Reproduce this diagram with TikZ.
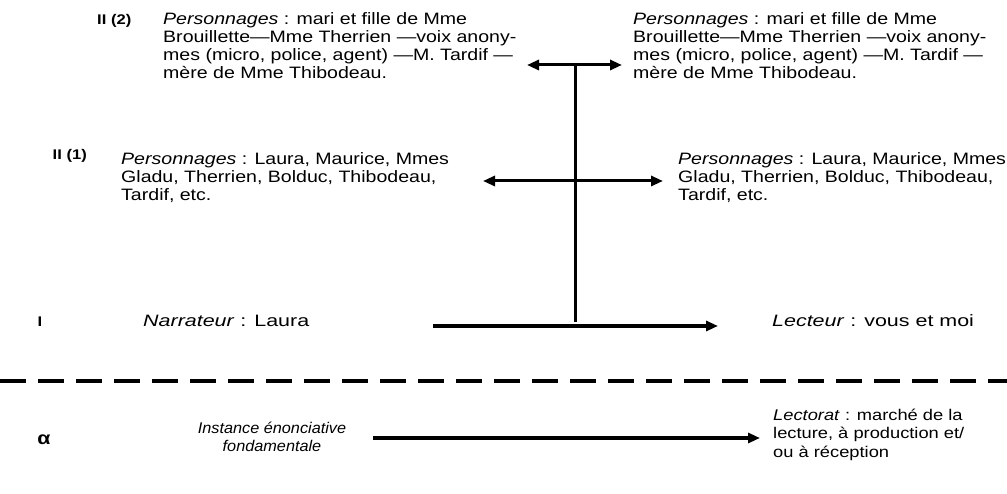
\documentclass[tikz,border=0pt]{standalone}
\usepackage{fontspec}
\setmainfont{Liberation Sans}[FakeStretch=1.185]
\newfontfamily\rowf{Liberation Sans}[FakeStretch=1.3]
\newfontfamily\botf{Liberation Sans}[FakeStretch=1.05]
\newfontfamily\lctf{Liberation Sans}[FakeStretch=1.18]
\usetikzlibrary{arrows.meta}
\begin{document}
\begin{tikzpicture}[x=1pt,y=-1pt,
  txt/.style={anchor=base west,inner sep=0pt},
  lbl/.style={anchor=base,inner sep=0pt,font=\fontsize{14}{16}\selectfont\bfseries},
  arr/.style={line width=3pt,-{Triangle[length=12pt,width=10pt]}},
  darr/.style={line width=3pt,{Triangle[length=12pt,width=10pt]}-{Triangle[length=12pt,width=10pt]}},
  bar/.style={line width=3pt},
  dashline/.style={line width=3.2pt,dash pattern=on 26pt off 12pt}]
\useasboundingbox (0,0) rectangle (1007,494);
\newcommand{\blk}[2]{\parbox[t]{#1pt}{\fontsize{16.5}{18}\selectfont\raggedright #2}}
% level II (2)
\node[lbl,anchor=base west] (l2) at (97,25) {II (2)};
\node[txt] (p2l) at (163,25) {\blk{380}{\textit{Personnages} : mari et fille de Mme\\ Brouillette---Mme Therrien ---voix anony-\\ mes (micro, police, agent) ---M. Tardif ---\\ mère de Mme Thibodeau.}};
\node[txt] (p2r) at (633,25) {\blk{370}{\textit{Personnages} : mari et fille de Mme\\ Brouillette---Mme Therrien ---voix anony-\\ mes (micro, police, agent) ---M. Tardif ---\\ mère de Mme Thibodeau.}};
% level II (1)
\node[lbl,anchor=base east] (l1) at (87,160) {II (1)};
\node[txt] (p1l) at (121,165) {\blk{340}{\textit{Personnages} : Laura, Maurice, Mmes\\ Gladu, Therrien, Bolduc, Thibodeau,\\ Tardif, etc.}};
\node[txt] (p1r) at (678,165) {\blk{328}{\textit{Personnages} : Laura, Maurice, Mmes\\ Gladu, Therrien, Bolduc, Thibodeau,\\ Tardif, etc.}};
% level I
\node[lbl] (li) at (40,327) {I};
\node[txt,font=\rowf\fontsize{16.5}{18}\selectfont] (nar) at (143,327) {\textit{Narrateur} : Laura};
\node[txt,font=\rowf\fontsize{16.5}{18}\selectfont] (lec) at (772,327) {\textit{Lecteur} : vous et moi};
% alpha
\node[lbl,font=\fontsize{18}{20}\selectfont\bfseries] (la) at (44,444) {α};
\node[inner sep=0pt,align=center,font=\botf\fontsize{15.5}{18}\selectfont\itshape] (inst) at (272,437) {Instance énonciative\\ fondamentale};
\node[txt] (lct) at (773,420) {\parbox[t]{232pt}{\lctf\fontsize{15.5}{18.5}\selectfont\raggedright \textit{Lectorat} : marché de la\\ lecture, à production et/\\ ou à réception}};
% connectors
\coordinate (t1) at (527,65); \coordinate (t2) at (622,65); \coordinate (tc) at (575,65);
\coordinate (m1) at (483,181); \coordinate (m2) at (663,181);
\coordinate (b1) at (433,326); \coordinate (b2) at (718,326); \coordinate (bc) at (575,322);
\coordinate (a1) at (373,438); \coordinate (a2) at (760,438);
\coordinate (d1) at (0,381); \coordinate (d2) at (1007,381);
\draw[darr] (t1) -- (t2);
\draw[darr] (m1) -- (m2);
\draw[bar] (tc) -- (bc);
\draw[arr,line width=4pt] (b1) -- (b2);
\draw[arr,line width=4pt] (a1) -- (a2);
\draw[dashline] (d1) -- (d2);
\end{tikzpicture}
\end{document}
